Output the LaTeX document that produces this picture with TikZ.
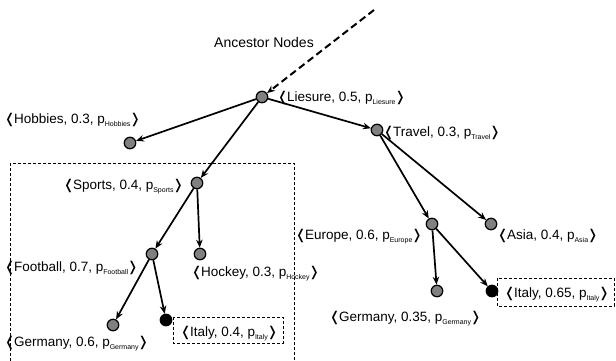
\documentclass[tikz,border=0pt]{standalone}
\usepackage{fontspec}
\setmainfont{Liberation Sans}
\newfontfamily\symfont{DejaVu Sans}
\usetikzlibrary{arrows.meta}
% tuple label: <name, weight, p_name>
\newcommand{\tup}[3]{{\symfont\char"276C}\kern-1.5pt#1, #2, p\raisebox{-0.5ex}{\fontsize{7}{8}\selectfont #3}\kern-1pt{\symfont\char"276D}}
\begin{document}
\begin{tikzpicture}[x=1pt,y=-1pt,
  vtx/.style={circle,draw=black,line width=1.2pt,fill=black!50,minimum size=11.5pt,inner sep=0pt},
  hit/.style={vtx,fill=black},
  lbl/.style={anchor=base west,inner sep=0pt,font=\fontsize{13.5}{15}\selectfont},
  edge/.style={line width=1.7pt,-{Stealth[length=8pt,width=6.5pt]}},
  box/.style={line width=0.7pt,dash pattern=on 3pt off 2pt},
]
\useasboundingbox (0,0) rectangle (616,361);

% vertices
\node[vtx] (lie) at (262,97) {};
\node[vtx] (hob) at (130,143) {};
\node[vtx] (tra) at (377,130) {};
\node[vtx] (spo) at (197,183) {};
\node[vtx] (foo) at (152,254) {};
\node[vtx] (hoc) at (200,254) {};
\node[vtx] (gerA) at (113,325) {};
\node[hit] (itaA) at (166,320) {};
\node[vtx] (eur) at (432,224) {};
\node[vtx] (asi) at (491,224) {};
\node[vtx] (gerB) at (437,291) {};
\node[hit] (itaB) at (492,291) {};

% labels
\node[lbl] (lieL) at (277,101) {\tup{Liesure}{0.5}{Liesure}};
\node[lbl] (hobL) at (4,123) {\tup{Hobbies}{0.3}{Hobbies}};
\node[lbl] (traL) at (383,136) {\tup{Travel}{0.3}{Travel}};
\node[lbl] (spoL) at (63,189) {\tup{Sports}{0.4}{Sports}};
\node[lbl] (fooL) at (4,271) {\tup{Football}{0.7}{Football}};
\node[lbl] (hocL) at (191,276) {\tup{Hockey}{0.3}{Hockey}};
\node[lbl] (gerAL) at (4,346) {\tup{Germany}{0.6}{Germany}};
\node[lbl] (itaAL) at (180,336) {\tup{Italy}{0.4}{Italy}};
\node[lbl] (eurL) at (295,239) {\tup{Europe}{0.6}{Europe}};
\node[lbl] (asiL) at (497,239) {\tup{Asia}{0.4}{Asia}};
\node[lbl] (gerBL) at (329,321) {\tup{Germany}{0.35}{Germany}};
\node[lbl] (itaBL) at (504,297) {\tup{Italy}{0.65}{Italy}};
\node[lbl,anchor=base,font=\fontsize{14}{16}\selectfont] (anc) at (264,48) {Ancestor Nodes};

% dashed frames
\draw[box] (10,163) rectangle (294,362);
\draw[box] (173,317) rectangle (283,343);
\draw[box] (497,278) rectangle (614,306);

% ancestor link
\coordinate (up) at (374,10);
\draw[line width=2pt,dash pattern=on 7pt off 4pt,-{Stealth[length=8pt,width=6.5pt]}] (up) -- (lie);

% tree edges
\draw[edge] (lie) -- (hob);
\draw[edge] (lie) -- (spo);
\draw[edge] (lie) -- (tra);
\draw[edge] (spo) -- (foo);
\draw[edge] (spo) -- (hoc);
\draw[edge] (foo) -- (gerA);
\draw[edge] (foo) -- (itaA);
\draw[edge] (tra) -- (eur);
\draw[edge] (tra) -- (asi);
\draw[edge] (eur) -- (gerB);
\draw[edge] (eur) -- (itaB);
\end{tikzpicture}
\end{document}
